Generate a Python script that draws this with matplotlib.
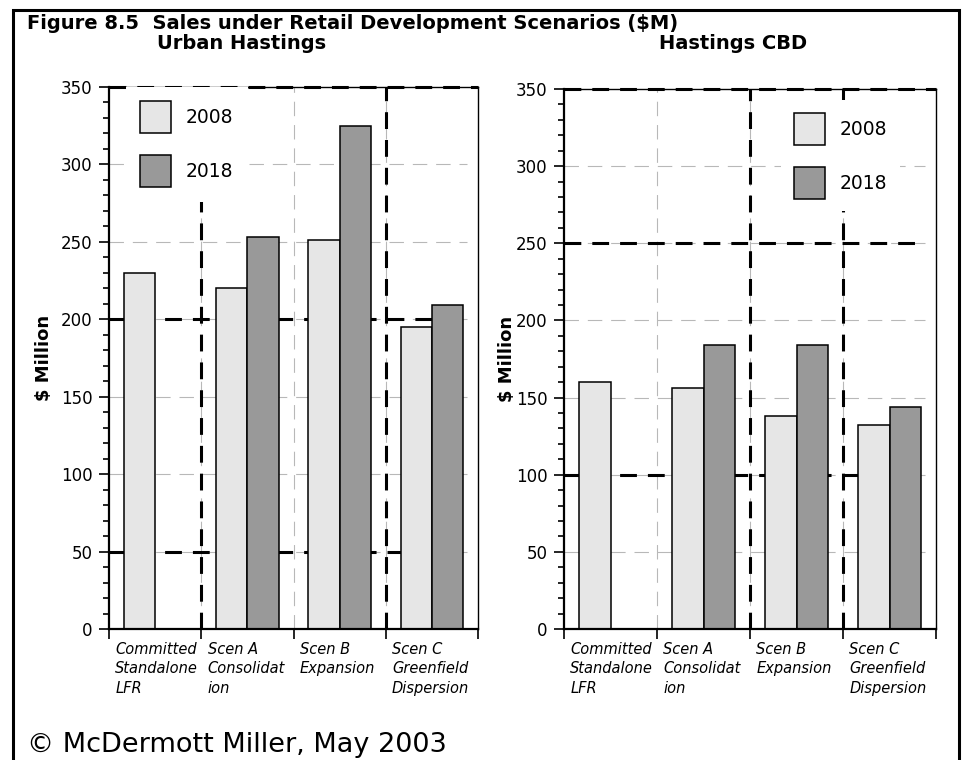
import numpy as np
import matplotlib
matplotlib.use("Agg")
import matplotlib.pyplot as plt
from matplotlib.patches import Rectangle
from matplotlib.transforms import offset_copy

plt.rcParams["font.family"] = ["DejaVu Sans"]

# data
categories = ["Committed\nStandalone\nLFR", "Scen A\nConsolidat\nion",
              "Scen B\nExpansion", "Scen C\nGreenfield\nDispersion"]
years = ["2008", "2018"]
urban_2008 = [230, 220, 251, 195]
urban_2018 = [np.nan, 253, 325, 209]
cbd_2008 = [160, 156, 138, 132]
cbd_2018 = [np.nan, 184, 184, 144]

title = "Figure 8.5  Sales under Retail Development Scenarios ($M)"
panel_titles = ["Urban Hastings", "Hastings CBD"]
credit = "\u00a9 McDermott Miller, May 2003"

c08, c18 = "#e6e6e6", "#999999"
W, H = 964, 760

fig = plt.figure(figsize=(W / 100, H / 100), dpi=100)

# frame around the whole figure (bottom edge is cut off in the original)
fig.patches.append(Rectangle((13 / W, -0.2), (959 - 13) / W, 1.2 - 10 / H,
                             transform=fig.transFigure, fill=False,
                             ec="black", lw=2.2))

fig.text(27 / W, 1 - 29 / H, title, fontsize=14, fontweight="bold", va="baseline")
fig.text(242 / W, 1 - 49 / H, panel_titles[0], fontsize=14, fontweight="bold",
         va="baseline", ha="center")
fig.text(733 / W, 1 - 49 / H, panel_titles[1], fontsize=14, fontweight="bold",
         va="baseline", ha="center")
fig.text(27 / W, 1 - 752 / H, credit, fontsize=19.5, va="baseline")

ax1 = fig.add_axes([109 / W, (H - 629) / H, 369 / W, 542 / H])
ax2 = fig.add_axes([564 / W, (H - 629) / H, 372 / W, 540 / H])

panels = [
    (ax1, urban_2008, urban_2018, [350, 200, 50], [1, 3], (0.045, 1.0), 0.77, -0.153),
    (ax2, cbd_2008, cbd_2018, [350, 250, 100], [2, 3], (0.584, 0.979), 0.67, -0.13),
]

heavy = dict(color="black", lw=2.2, ls=(0, (5.5, 3.6)), zorder=1)
light = dict(color="#b8b8b8", lw=0.8, ls=(0, (13, 8)), zorder=0.5)

for ax, v08, v18, hy, vx, leg_pos, leg_pad, ylab_x in panels:
    x = np.arange(len(categories)) + 0.5
    w = 0.34
    b1 = ax.bar(x - w / 2, v08, w, color=c08, edgecolor="black", lw=1.1,
                label=years[0], zorder=2)
    b2 = ax.bar(x + w / 2, v18, w, color=c18, edgecolor="black", lw=1.1,
                label=years[1], zorder=2)

    ax.set_xlim(0, 4)
    ax.set_ylim(0, 350)
    ax.set_yticks(np.arange(0, 351, 50))
    ax.set_yticks(np.arange(0, 351, 10), minor=True)
    ax.set_xticks(np.arange(0, 5))
    ax.set_xticklabels([])
    ax.tick_params(axis="y", which="major", length=7, width=1.2, labelsize=12, pad=5)
    ax.tick_params(axis="y", which="minor", length=4.5, width=1.2)
    ax.tick_params(axis="x", which="major", length=7, width=1.2)

    for s in ["left", "bottom"]:
        ax.spines[s].set_linewidth(1.6)
    for s in ["right", "top"]:
        ax.spines[s].set_linewidth(1.0)

    # light grid
    for yv in np.arange(50, 350, 50):
        ax.axhline(yv, xmax=0.97, **light)
    for xv in [1, 2, 3]:
        ax.axvline(xv, **light)

    # heavy dashed overlay lines
    for yv in hy:
        ax.axhline(yv, xmax=1.0 if yv == 350 else 0.97, clip_on=False, **heavy)
    for xv in vx:
        ax.axvline(xv, **heavy)

    ax.set_ylabel("$ Million", fontsize=13, fontweight="bold")
    ax.yaxis.set_label_coords(ylab_x, 0.5)

    tr = offset_copy(ax.get_xaxis_transform(), fig=fig, x=4.5, y=-9, units="points")
    for i, lab in enumerate(categories):
        ax.text(i, 0, lab, transform=tr, ha="left", va="top", fontsize=10.5,
                style="italic", linespacing=1.38)

    leg = ax.legend(handles=[b1, b2], loc="upper left", bbox_to_anchor=leg_pos,
                    borderaxespad=0, borderpad=leg_pad, fontsize=13.5,
                    handlelength=1.65, handleheight=2.25, labelspacing=1.17,
                    handletextpad=0.8, frameon=True, fancybox=False)
    leg.get_frame().set_facecolor("white")
    leg.get_frame().set_edgecolor("none")
    leg.get_frame().set_alpha(1)

fig.savefig("out.png", dpi=100)
